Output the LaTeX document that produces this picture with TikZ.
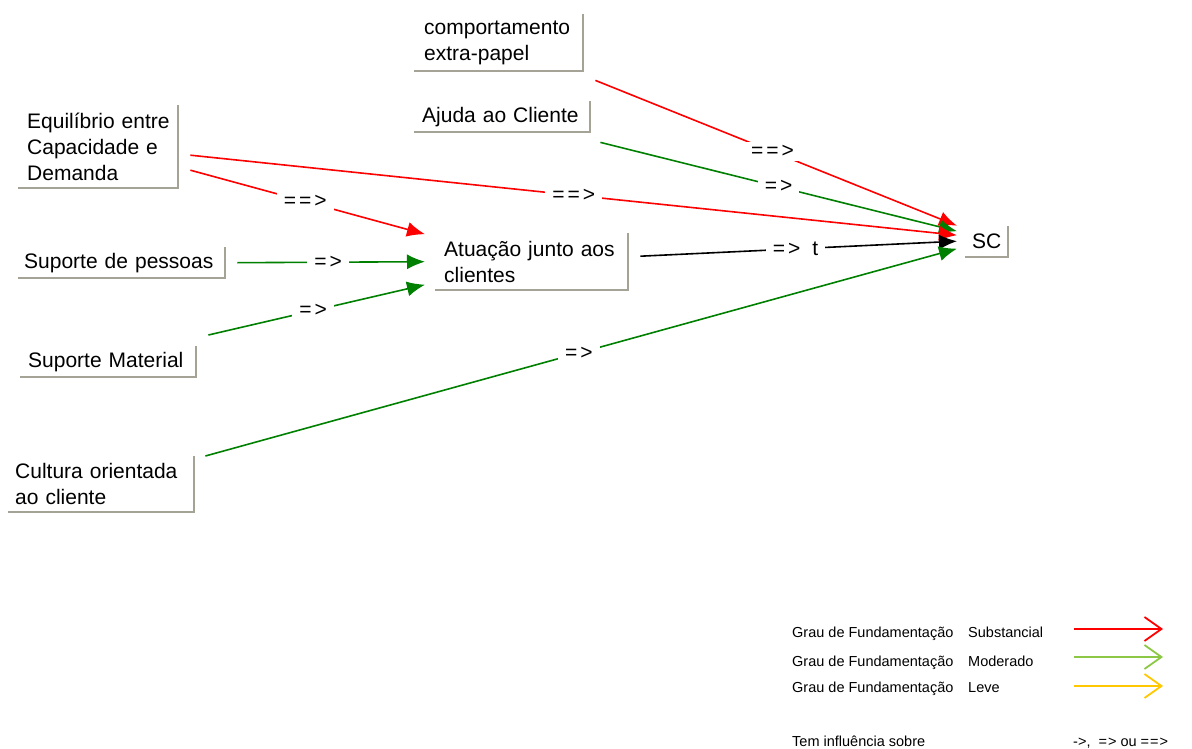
\documentclass[tikz,border=0pt]{standalone}
\usepackage{fontspec}
\setmainfont{Liberation Sans}
\usetikzlibrary{arrows.meta,calc}
\definecolor{boxgray}{RGB}{165,162,150}
\definecolor{sred}{RGB}{255,0,0}
\definecolor{sgreen}{RGB}{0,128,0}
\definecolor{lgreen}{RGB}{140,200,70}
\definecolor{lyellow}{RGB}{255,200,0}
\begin{document}
\begin{tikzpicture}[x=1pt,y=-1pt,
  box/.style={anchor=north west, inner ysep=0pt, align=left, font=\fontsize{21}{26}\selectfont},
  edgeline/.style={draw=boxgray, line width=2pt},
  conn/.style={line width=1.6pt, -{Latex[length=18pt,width=15pt]}},
  lab/.style={fill=white, inner xsep=7pt, inner ysep=3pt, font=\fontsize{21}{24}\selectfont, text=black},
  legtxt/.style={anchor=base west, font=\fontsize{14.5}{17}\selectfont, inner sep=0pt},
  legarrow/.style={line width=1.8pt, -{Straight Barb[length=17pt,width=24pt]}}
]
\useasboundingbox (0,0) rectangle (1192,749);

% nodes
\node[box, inner xsep=10pt, text width=149pt, minimum height=57pt] (comp) at (414,14) {\mbox{comportamento}\\\mbox{extra-papel}};
\node[box, inner xsep=8pt, text width=160pt, minimum height=31pt] (aju) at (414,101) {\mbox{Ajuda ao Cliente}};
\node[box, inner xsep=9pt, text width=142pt, minimum height=83pt] (eq) at (18,105) {\mbox{Equilíbrio entre}\\\mbox{Capacidade e}\\\mbox{Demanda}};
\node[box, inner xsep=6pt, text width=195pt, minimum height=31pt] (sp) at (18,247) {\mbox{Suporte de pessoas}};
\node[box, inner xsep=8pt, text width=160pt, minimum height=31pt] (sm) at (20,346) {\mbox{Suporte Material}};
\node[box, inner xsep=7pt, text width=172pt, minimum height=56pt] (cult) at (8,456) {\mbox{Cultura orientada}\\\mbox{ao cliente}};
\node[box, inner xsep=9pt, text width=175pt, minimum height=57pt] (atu) at (435,233) {\mbox{Atuação junto aos}\\\mbox{clientes}};
\node[box, inner xsep=7pt, text width=29pt, minimum height=31pt] (sc) at (965,226) {SC};

\foreach \n in {comp,aju,eq,sp,sm,cult,atu,sc}
  \draw[edgeline] (\n.north east) -- (\n.south east) -- (\n.south west);

% connectors
\draw[conn, draw=sred, fill=sred] ($(comp.south east)+(12,9)$) -- node[lab, pos=0.49]{=\kern3pt=\kern3pt>} ($(sc.west)+(-8,-16)$);
\draw[conn, draw=sgreen, fill=sgreen] ($(aju.south east)+(10,10)$) -- node[lab, pos=0.5]{=\kern3pt>} ($(sc.west)+(-8,-10.5)$);
\draw[conn, draw=sred, fill=sred] ($(eq.east)+(12,8.5)$) -- node[lab, pos=0.5]{=\kern3pt=\kern3pt>} ($(sc.west)+(-8,-6.5)$);
\draw[conn, draw=sred, fill=sred] ($(eq.east)+(12,23.5)$) -- node[lab, pos=0.49]{=\kern3pt=\kern3pt>} ($(atu.west)+(-10,-27.5)$);
\draw[conn, draw=sgreen, fill=sgreen] ($(sp.east)+(12,0)$) -- node[lab, pos=0.484]{=\kern3pt>} ($(atu.west)+(-10,0)$);
\draw[conn, draw=sgreen, fill=sgreen] ($(sm.north east)+(12,-11)$) -- node[lab, pos=0.484]{=\kern3pt>} ($(atu.west)+(-10,23)$);
\draw[conn, draw=black, fill=black] ($(atu.east)+(12,-5.5)$) -- node[lab, pos=0.49]{=\kern3pt>\hspace{12pt}t} ($(sc.west)+(-8,-0.5)$);
\draw[conn, draw=sgreen, fill=sgreen] ($(cult.north east)+(11,0)$) -- node[lab, pos=0.497]{=\kern3pt>} ($(sc.west)+(-8,7)$);

% legend
\node[legtxt] (l1a) at (792,637) {Grau de Fundamentação};
\node[legtxt] (l1b) at (968,637) {Substancial};
\node[legtxt] (l2a) at (792,666) {Grau de Fundamentação};
\node[legtxt] (l2b) at (968,666) {Moderado};
\node[legtxt] (l3a) at (792,692) {Grau de Fundamentação};
\node[legtxt] (l3b) at (968,692) {Leve};
\node[legtxt] (inf) at (792,746) {Tem influência sobre};
\node[legtxt] (sym) at (1073,746) {->,\ \ =\kern1pt> ou =\kern1pt=\kern1pt>};

\coordinate (a1s) at (1074,629); \coordinate (a1e) at (1163,629);
\coordinate (a2s) at (1074,657); \coordinate (a2e) at (1163,657);
\coordinate (a3s) at (1074,686); \coordinate (a3e) at (1163,686);
\draw[legarrow, draw=sred] (a1s) -- (a1e);
\draw[legarrow, draw=lgreen] (a2s) -- (a2e);
\draw[legarrow, draw=lyellow] (a3s) -- (a3e);
\end{tikzpicture}
\end{document}
